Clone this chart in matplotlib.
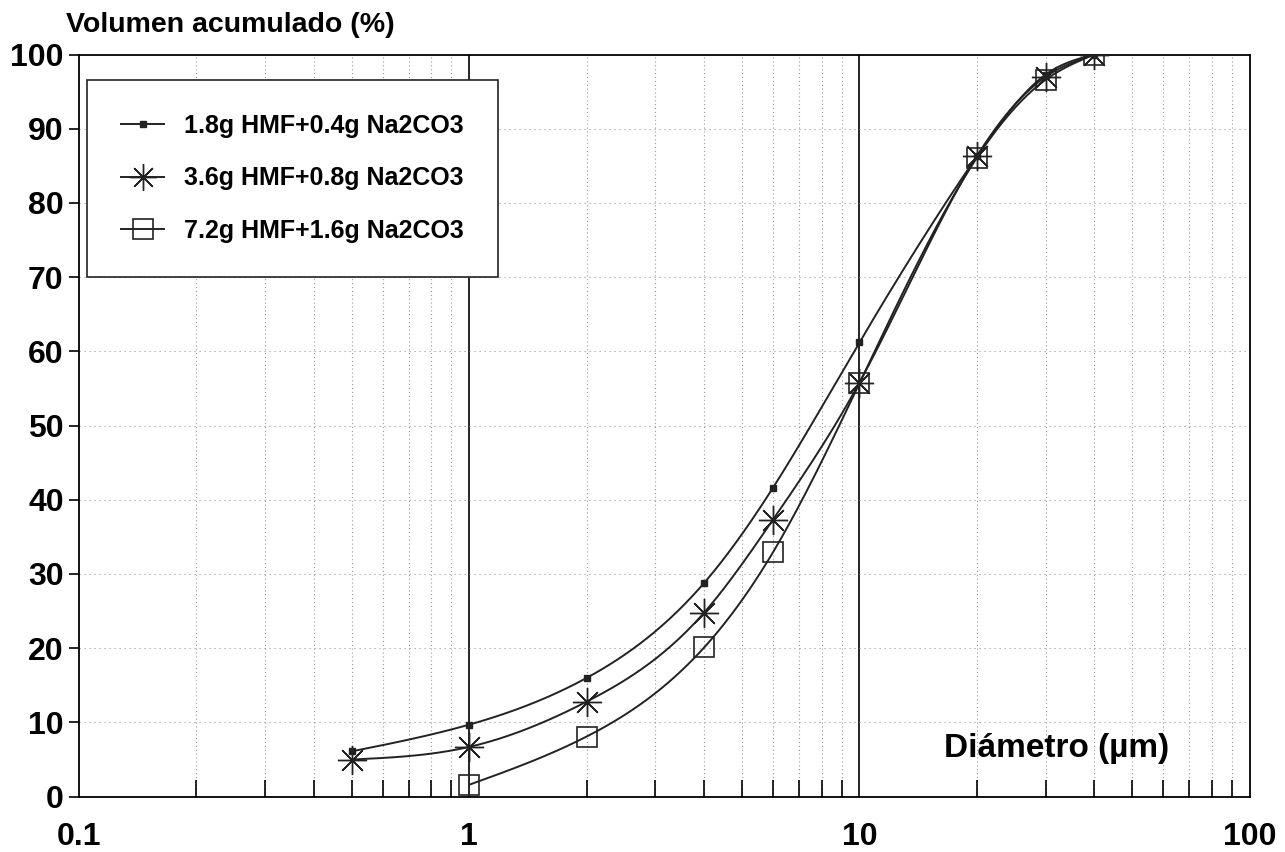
import numpy as np
import matplotlib
matplotlib.use("Agg")
import matplotlib.pyplot as plt
from matplotlib.ticker import FixedLocator, NullFormatter

plt.rcParams["font.family"] = ["Liberation Sans", "DejaVu Sans"]

# datos
diam_1 = [0.5, 1, 2, 4, 6, 10, 20, 30, 40]
vol_1 = [6.1, 9.7, 16.0, 28.8, 41.6, 61.2, 86.3, 97.3, 100]

diam_2 = [0.5, 1, 2, 4, 6, 10, 20, 30, 40]
vol_2 = [5.0, 6.7, 12.8, 24.8, 37.3, 55.8, 86.3, 97.0, 100]

diam_3 = [1, 2, 4, 6, 10, 20, 30, 40]
vol_3 = [1.6, 8.1, 20.1, 32.9, 55.7, 86.1, 96.6, 100]

etiquetas = ["1.8g HMF+0.4g Na2CO3", "3.6g HMF+0.8g Na2CO3", "7.2g HMF+1.6g Na2CO3"]


def spline_natural(x, y, n=300):
    # spline cubico natural en escala log(x), solo para trazar la curva suave
    x = np.log10(np.asarray(x, float))
    y = np.asarray(y, float)
    m = len(x)
    h = np.diff(x)
    A = np.zeros((m, m))
    b = np.zeros(m)
    A[0, 0] = 1
    A[-1, -1] = 1
    for i in range(1, m - 1):
        A[i, i - 1] = h[i - 1]
        A[i, i] = 2 * (h[i - 1] + h[i])
        A[i, i + 1] = h[i]
        b[i] = 6 * ((y[i + 1] - y[i]) / h[i] - (y[i] - y[i - 1]) / h[i - 1])
    M = np.linalg.solve(A, b)
    xs = np.linspace(x[0], x[-1], n)
    ys = np.empty_like(xs)
    for k, xv in enumerate(xs):
        i = min(np.searchsorted(x, xv) - 1, m - 2)
        i = max(i, 0)
        t1 = x[i + 1] - xv
        t0 = xv - x[i]
        ys[k] = (M[i] * t1 ** 3 + M[i + 1] * t0 ** 3) / (6 * h[i]) \
            + (y[i] / h[i] - M[i] * h[i] / 6) * t1 \
            + (y[i + 1] / h[i] - M[i + 1] * h[i] / 6) * t0
    return 10 ** xs, ys


fig = plt.figure(figsize=(12.85, 8.52), dpi=100)
ax = fig.add_axes([0.0615, 0.065, 0.911, 0.871])

ax.set_xscale("log")
ax.set_xlim(0.1, 100)
ax.set_ylim(0, 100)

# rejilla
menores = [m * 10.0 ** e for e in (-1, 0, 1) for m in range(2, 10)]
for xv in menores:
    ax.axvline(xv, color="#999999", lw=0.8, ls=(0, (1, 2.5)), zorder=1)
for xv in [1, 10]:
    ax.axvline(xv, color="black", lw=1.2, zorder=1)
for yv in range(10, 100, 10):
    ax.axhline(yv, color="#999999", lw=0.8, ls=(0, (1, 3.5)), zorder=1)

asterisco = (8, 2, 0)
ax.plot(*spline_natural(diam_1, vol_1), color="#222222", lw=1.4, zorder=3)
ax.plot(*spline_natural(diam_2, vol_2), color="#222222", lw=1.4, zorder=3)
ax.plot(*spline_natural(diam_3, vol_3), color="#222222", lw=1.4, zorder=3)
ax.plot(diam_1, vol_1, ls="none", marker="s", ms=5, color="#222222", zorder=4)
ax.plot(diam_2, vol_2, ls="none", marker=asterisco, ms=21, mew=1.0, color="#222222", zorder=4)
ax.plot(diam_3, vol_3, ls="none", marker="s", ms=15, mfc="none", mew=1.2, mec="#222222", zorder=4)

# leyenda
h1, = ax.plot([], [], color="#222222", lw=1.4, marker="s", ms=5)
h2, = ax.plot([], [], color="#222222", lw=1.4, marker=asterisco, ms=19, mew=1.0)
h3, = ax.plot([], [], color="#222222", lw=1.4, marker="s", ms=15, mfc="none", mew=1.2)
leg = ax.legend([h1, h2, h3], etiquetas, loc="upper left", bbox_to_anchor=(0.0068, 0.966),
                borderaxespad=0, fancybox=False, framealpha=1, edgecolor="#222222",
                handlelength=1.75, borderpad=1.35, labelspacing=1.15, handletextpad=0.8,
                prop={"size": 18, "weight": "bold"})
leg.get_frame().set_linewidth(1.2)

# ejes y marcas
ax.xaxis.set_major_locator(FixedLocator([0.1, 1, 10, 100]))
ax.set_xticklabels(["0.1", "1", "10", "100"])
ax.xaxis.set_minor_locator(FixedLocator(menores))
ax.xaxis.set_minor_formatter(NullFormatter())
ax.tick_params(axis="x", which="minor", direction="in", length=12, width=1.2)
ax.tick_params(axis="x", which="major", direction="in", length=0, pad=18, labelsize=23)
ax.set_yticks(range(0, 101, 10))
ax.tick_params(axis="y", which="major", direction="out", length=7, width=1.2, labelsize=23, pad=4)
for lab in ax.get_xticklabels() + ax.get_yticklabels():
    lab.set_fontweight("bold")
for s in ax.spines.values():
    s.set_linewidth(1.3)

fig.text(0.051, 0.971, "Volumen acumulado (%)", fontsize=20.5, fontweight="bold", va="center", ha="left")
ax.text(0.931, 0.065, "Diámetro (µm)", transform=ax.transAxes, fontsize=24, fontweight="bold",
        ha="right", va="center")

plt.savefig("out.png", dpi=100)
plt.close()
